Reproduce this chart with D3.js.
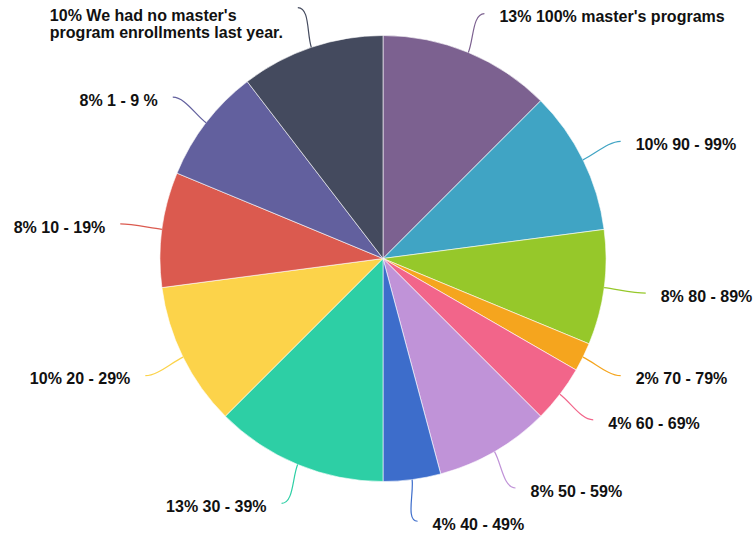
<!DOCTYPE html>
<html>
<head>
<meta charset="utf-8">
<script src="https://cdn.jsdelivr.net/npm/d3@7"></script>
<style>
  html, body { margin: 0; padding: 0; background: #fff; }
  svg { display: block; }
  text { font-family: "Liberation Sans", Arial, Helvetica, sans-serif; font-weight: bold; font-size: 16px; fill: #111; }
</style>
</head>
<body>
<svg id="chart" width="756" height="534"></svg>
<script>
// Data (counts of responses; percentages derived from totals)
const categories = [
  "100% master's programs",
  "90 - 99%",
  "80 - 89%",
  "70 - 79%",
  "60 - 69%",
  "50 - 59%",
  "40 - 49%",
  "30 - 39%",
  "20 - 29%",
  "10 - 19%",
  "1 - 9 %",
  "We had no master's program enrollments last year."
];
const counts = [6, 5, 4, 1, 2, 4, 2, 6, 5, 4, 4, 5];
const colors = [
  "#7c6190", "#40a4c4", "#96c82a", "#f5a51e", "#f2658a", "#c093d8",
  "#3d6dcb", "#2dcfa5", "#fcd34a", "#db5a4f", "#62609e", "#444a5e"
];
// Label line breaks (text content only)
const labelLines = [
  null, null, null, null, null, null, null, null, null, null, null,
  ["We had no master's", "program enrollments last year."]
];

const W = 756, H = 534;
const cx = 383, cy = 258.5, R = 223;
const svg = d3.select("#chart");
const g = svg.append("g").attr("transform", `translate(${cx},${cy})`);

const total = d3.sum(counts);
const data = categories.map((c, i) => ({ name: c, value: counts[i], color: colors[i], lines: labelLines[i] }));

const pie = d3.pie().value(d => d.value).sort(null);
const arcs = pie(data);
const arc = d3.arc().innerRadius(0).outerRadius(R);

g.selectAll("path.slice")
  .data(arcs)
  .enter().append("path")
  .attr("class", "slice")
  .attr("d", arc)
  .attr("fill", d => d.data.color)
  .attr("stroke", "#ffffff")
  .attr("stroke-width", 0.6)
  .attr("stroke-linejoin", "round");

const pt = (a, r) => [Math.sin(a) * r, -Math.cos(a) * r];
const endR = 265;
const lh = 16.5;
const minFirstBaseline = 21 - cy;

arcs.forEach(d => {
  const mid = (d.startAngle + d.endAngle) / 2;
  const side = Math.sin(mid) >= 0 ? 1 : -1;
  const p0 = pt(mid, R);
  const c1 = pt(mid, R + 14);
  const p2 = pt(mid, endR);
  const c2 = [p2[0] - side * 12, p2[1]];
  g.append("path")
    .attr("d", `M${p0[0]},${p0[1]} C${c1[0]},${c1[1]} ${c2[0]},${c2[1]} ${p2[0]},${p2[1]}`)
    .attr("fill", "none")
    .attr("stroke", d.data.color)
    .attr("stroke-width", 1.2);

  const pct = Math.round(d.data.value / total * 100) + "%";
  const lines = d.data.lines ? d.data.lines.slice() : [d.data.name];
  lines[0] = pct + " " + lines[0];
  const center = p2[1] + 3;
  let firstBase = center - ((lines.length - 1) * lh) / 2 + 5.75;
  if (firstBase < minFirstBaseline) firstBase = minFirstBaseline;
  const tx = p2[0] + side * 15;
  let left = tx;
  if (side < 0) {
    const widths = lines.map(ln => {
      const s = g.append("text").text(ln);
      const w = s.node().getComputedTextLength();
      s.remove();
      return w;
    });
    left = tx - d3.max(widths);
  }
  lines.forEach((ln, i) => {
    g.append("text").attr("x", left).attr("y", firstBase + i * lh).text(ln);
  });
});
</script>
</body>
</html>
